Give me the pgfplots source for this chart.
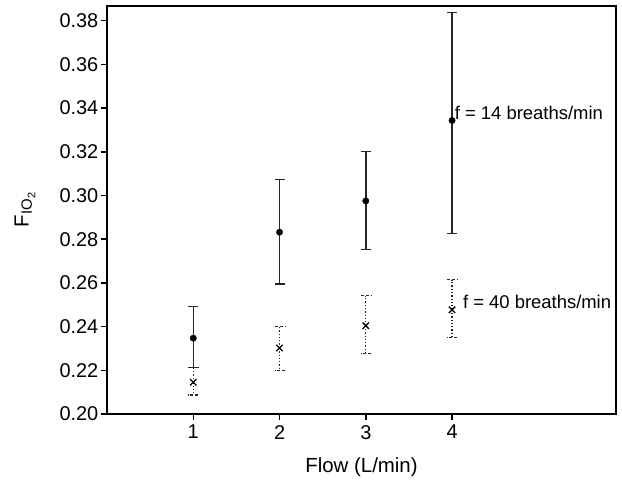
\documentclass[border=0pt]{standalone}
\usepackage{pgfplots}
\pgfplotsset{compat=1.18}
\usepackage{fontspec}
\setmainfont{Liberation Sans}
\pgfplotstableread{
x y ep em
1 0.2347 0.0145 0.0134
2 0.2832 0.0242 0.0237
3 0.2975 0.0226 0.0221
4 0.3343 0.0495 0.0517
}\slow
\pgfplotstableread{
x y ep em
1 0.2145 0.0068 0.0058
2 0.2302 0.0100 0.0103
3 0.2404 0.0138 0.0127
4 0.2477 0.0138 0.0127
}\fast
\begin{document}
\begin{tikzpicture}
\begin{axis}[
  at={(0,0)}, anchor=south west,
  scale only axis, width=509bp, height=408bp,
  xmin=0, xmax=5.9, ymin=0.2, ymax=0.3867,
  xtick={1,2,3,4}, ytick={0.20,0.22,0.24,0.26,0.28,0.30,0.32,0.34,0.36,0.38},
  /pgf/number format/assume math mode=true,
  xtick pos=bottom, ytick pos=left, tick align=outside,
  axis line style={line width=2.6pt, black},
  major tick length=6bp,
  tick style={line width=1.5pt, black},
  xticklabel style={font=\fontsize{20}{24}\selectfont, inner sep=5bp},
  yticklabel style={font=\fontsize{20}{24}\selectfont, inner sep=2.5bp,
    /pgf/number format/fixed, /pgf/number format/fixed zerofill, /pgf/number format/precision=2},
  label style={font=\fontsize{20.5}{24}\selectfont},
  xlabel={Flow (L/min)},
  ylabel={F\raisebox{-0.3ex}{\fontsize{15}{15}\selectfont IO\raisebox{-0.45ex}{\fontsize{11}{11}\selectfont 2}}},
  xlabel style={at={(axis description cs:0.5,0)}, anchor=center, yshift=-53bp},
  ylabel style={at={(axis description cs:0,0.5)}, anchor=center, yshift=82bp},
  clip=false,
]
\addplot+[black, only marks, mark=*, mark size=3.2pt,
  mark options={fill=black, draw=black},
  error bars/.cd, y dir=both, y explicit,
  error bar style={line width=1.4pt, black!85},
  error mark options={rotate=90, mark size=5bp, line width=1.4pt, black!85}]
  table[x=x, y=y, y error plus=ep, y error minus=em] {\slow};
\addplot+[black, only marks, mark=x, mark size=4.5bp,
  mark options={line width=1.3pt, draw=black},
  error bars/.cd, y dir=both, y explicit,
  error bar style={line width=1.3pt, black!85, dotted},
  error mark options={rotate=90, mark size=5bp, line width=1.3pt, black!85, densely dashed}]
  table[x=x, y=y, y error plus=ep, y error minus=em] {\fast};
\node[anchor=west, inner sep=0pt, font=\fontsize{18.5}{22}\selectfont] at (axis cs:4.03,0.3378) {f = 14 breaths/min};
\node[anchor=west, inner sep=0pt, font=\fontsize{18.5}{22}\selectfont] at (axis cs:4.125,0.2514) {f = 40 breaths/min};
\end{axis}
\pgfresetboundingbox
\path (-107bp,-68bp) rectangle (515bp,414bp);
\end{tikzpicture}
\end{document}
